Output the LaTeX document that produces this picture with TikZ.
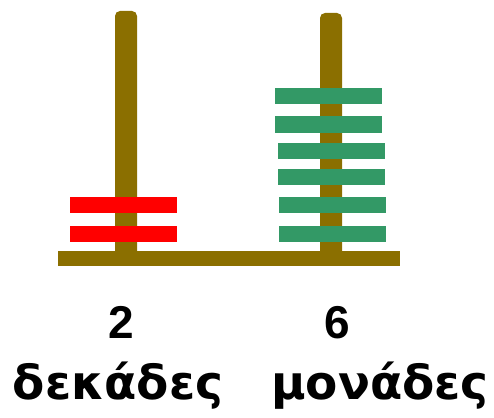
\documentclass[tikz,border=0pt]{standalone}
\usepackage{fontspec}
\setmainfont{DejaVu Sans}
\newfontfamily\digitfont{Liberation Sans}
\definecolor{rodbrown}{RGB}{139,111,0}
\definecolor{bead red}{RGB}{255,0,0}
\definecolor{beadgreen}{RGB}{51,153,102}
\begin{document}
\begin{tikzpicture}[x=1pt,y=-1pt,
  rod/.style={fill=rodbrown, draw=none},
  tenbar/.style={fill=bead red, draw=none},
  unitbar/.style={fill=beadgreen, draw=none},
  num/.style={font=\digitfont\bfseries\fontsize{46}{50}\selectfont, anchor=base, inner sep=0pt},
  lbl/.style={font=\bfseries\fontsize{47}{52}\selectfont, anchor=base, inner sep=0pt}]
\useasboundingbox (0,0) rectangle (494,417);
% rods
\fill[rod, rounded corners=5pt] (115,262) -- (115,11) -- (137,11) -- (137,262) -- cycle;
\fill[rod, rounded corners=5pt] (320,262) -- (320,13) -- (342,13) -- (342,262) -- cycle;
% base
\fill[rod] (58,251) rectangle (400,266);
% tens
\fill[tenbar] (70,197) rectangle (177,213);
\fill[tenbar] (70,226) rectangle (177,242);
% units
\fill[unitbar] (275,88) rectangle (382,104);
\fill[unitbar] (275,116) rectangle (382,133);
\fill[unitbar] (278,143) rectangle (385,159);
\fill[unitbar] (278,169) rectangle (385,185);
\fill[unitbar] (279,197) rectangle (386,213);
\fill[unitbar] (279,226) rectangle (386,242);
% labels
\node[num] (n2) at (121,338) {2};
\node[num] (n6) at (337,338) {6};
\node[lbl] (w1) at (118,399) {δεκάδες};
\node[lbl] (w2) at (380,399) {μονάδες};
\end{tikzpicture}
\end{document}
